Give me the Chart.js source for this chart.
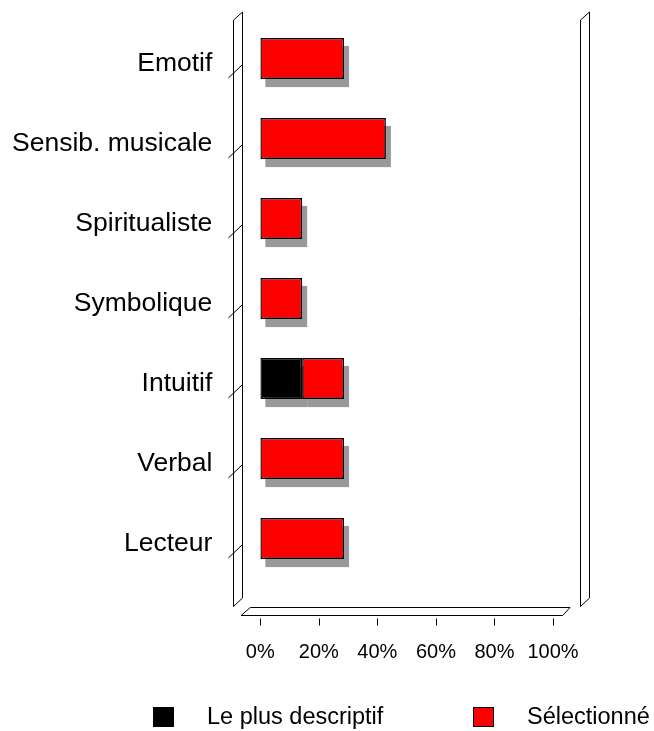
<!DOCTYPE html>
<html>
<head>
<meta charset="utf-8">
<script src="https://cdn.jsdelivr.net/npm/chart.js@4"></script>
<style>
  html, body { margin: 0; padding: 0; background: #fff; }
</style>
</head>
<body>
<canvas id="profilChart" width="654" height="731"></canvas>
<script>
var categories = ['Emotif', 'Sensib. musicale', 'Spiritualiste', 'Symbolique', 'Intuitif', 'Verbal', 'Lecteur'];
var plusDescriptif = [null, null, null, null, 14.3, null, null];
var selectionne = [28.6, 42.9, 14.3, 14.3, 14.3, 28.6, 28.6];
var xTicks = [0, 20, 40, 60, 80, 100];
var seriesLabels = ['Le plus descriptif', 'Sélectionné'];

var FONT = "'Liberation Sans', Arial, sans-serif";

function crisp(v) { return Math.round(v) + 0.5; }

// pseudo-3D box: side walls, floor, category ticks, axis ticks and bar shadows
var frame3d = {
    id: 'frame3d',
    beforeDatasetsDraw: function (chart) {
        var ctx = chart.ctx, a = chart.chartArea;
        var xs = chart.scales.x, ys = chart.scales.y;
        ctx.save();
        ctx.strokeStyle = '#000';
        ctx.lineWidth = 1;

        function wall(fx) {
            ctx.beginPath();
            ctx.moveTo(crisp(fx), a.top + 1.5);
            ctx.lineTo(crisp(fx), a.bottom + 28);
            ctx.lineTo(crisp(fx + 8.5), a.bottom + 19.5);
            ctx.lineTo(crisp(fx + 8.5), a.top - 6.5);
            ctx.closePath();
            ctx.stroke();
        }
        wall(a.left - 27);
        wall(a.right + 27);

        // floor
        ctx.beginPath();
        ctx.moveTo(a.left - 19.3, crisp(a.bottom + 36.5));
        ctx.lineTo(a.right + 9.7, crisp(a.bottom + 36.5));
        ctx.lineTo(a.right + 17, crisp(a.bottom + 28.5));
        ctx.lineTo(a.left - 10, crisp(a.bottom + 28.5));
        ctx.closePath();
        ctx.stroke();

        // slanted category ticks across the left wall
        categories.forEach(function (c, i) {
            var cy = ys.getPixelForValue(i);
            ctx.beginPath();
            ctx.moveTo(a.left - 32, cy + 19.5);
            ctx.lineTo(a.left - 18.3, cy + 6.5);
            ctx.stroke();
        });

        // value ticks under the floor
        xTicks.forEach(function (v) {
            var px = crisp(xs.getPixelForValue(v));
            ctx.beginPath();
            ctx.moveTo(px, a.bottom + 40);
            ctx.lineTo(px, a.bottom + 47);
            ctx.stroke();
        });

        // shadows
        ctx.fillStyle = '#999999';
        chart.data.datasets.forEach(function (ds, di) {
            var meta = chart.getDatasetMeta(di);
            meta.data.forEach(function (bar, i) {
                if (ds.data[i] == null) return;
                var p = bar.getProps(['x', 'y', 'base', 'height'], true);
                var left = Math.min(p.x, p.base);
                ctx.fillRect(left + 5, p.y - p.height / 2 + 8, Math.abs(p.x - p.base), p.height);
            });
        });
        ctx.restore();
    }
};

// legend row along the bottom
var bottomLegend = {
    id: 'bottomLegend',
    afterDraw: function (chart) {
        var ctx = chart.ctx;
        var boxX = [153, 473];
        var cy = 717;
        ctx.save();
        ctx.font = '23.5px ' + FONT;
        ctx.textBaseline = 'middle';
        chart.data.datasets.forEach(function (ds, i) {
            var bx = boxX[i];
            ctx.fillStyle = ds.backgroundColor;
            ctx.fillRect(bx, cy - 10, 21, 20);
            ctx.strokeStyle = '#000';
            ctx.lineWidth = 1;
            ctx.strokeRect(bx + 0.5, cy - 9.5, 20, 19);
            ctx.fillStyle = '#000';
            ctx.fillText(ds.label, bx + 54, cy + 1);
        });
        ctx.restore();
    }
};

var ctx = document.getElementById('profilChart').getContext('2d');
var profilChart = new Chart(ctx, {
    type: 'bar',
    data: {
        labels: categories,
        datasets: [{
            label: seriesLabels[0],
            data: plusDescriptif,
            backgroundColor: '#000000',
            borderColor: '#000000',
            borderWidth: 1.5,
            borderSkipped: false,
            categoryPercentage: 1,
            barPercentage: 0.515
        }, {
            label: seriesLabels[1],
            data: selectionne,
            backgroundColor: '#ff0000',
            borderColor: '#000000',
            borderWidth: 1.5,
            borderSkipped: false,
            categoryPercentage: 1,
            barPercentage: 0.515
        }]
    },
    options: {
        indexAxis: 'y',
        responsive: false,
        animation: false,
        layout: {
            padding: { left: 12, right: 101, top: 18.5, bottom: 66.5 }
        },
        scales: {
            y: {
                stacked: true,
                // tick marks are hidden; tickLength only sets the gap to the labels
                grid: { display: false, drawTicks: true, tickLength: 48 },
                border: { display: false },
                ticks: {
                    color: '#000',
                    font: { family: FONT, size: 26.5 },
                    padding: 0,
                    labelOffset: 5
                }
            },
            x: {
                stacked: true,
                min: 0,
                max: 100,
                grid: { display: false, drawTicks: true, tickLength: 62 },
                border: { display: false },
                ticks: {
                    stepSize: 20,
                    autoSkip: false,
                    maxRotation: 0,
                    color: '#000',
                    font: { family: FONT, size: 20 },
                    padding: 0,
                    callback: function (v) { return v + '%'; }
                }
            }
        },
        plugins: {
            legend: { display: false },
            tooltip: { enabled: false }
        }
    },
    plugins: [frame3d, bottomLegend]
});
</script>
</body>
</html>
